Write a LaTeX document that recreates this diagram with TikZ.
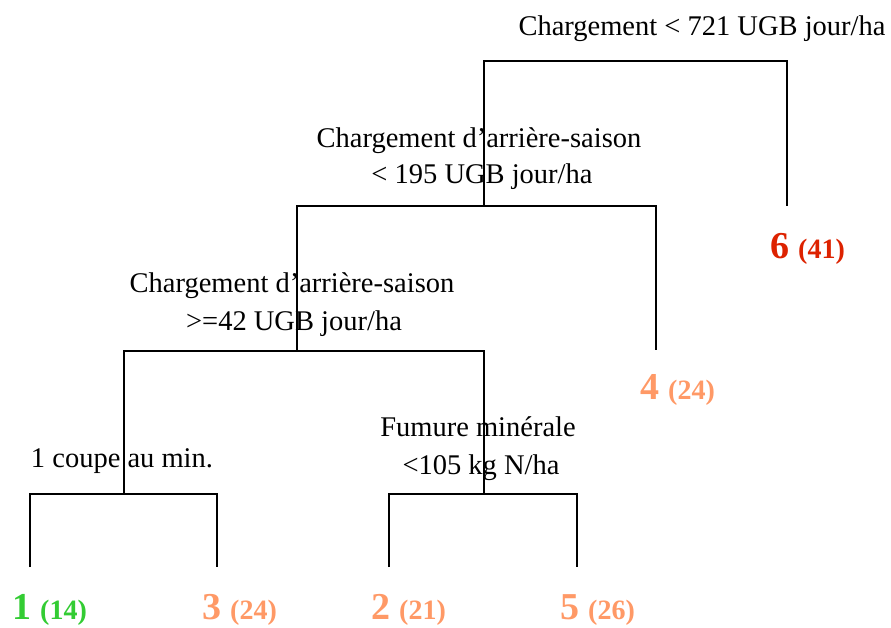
\documentclass[tikz,border=0pt]{standalone}
\usepackage{fontspec}
\setmainfont{Liberation Serif}
\definecolor{leafgreen}{RGB}{51,204,51}
\definecolor{leaforange}{RGB}{255,153,102}
\definecolor{leafred}{RGB}{221,34,0}
\tikzset{
  split/.style={line width=1.3pt, draw=black},
  cond/.style={inner sep=0pt, anchor=base, font=\fontsize{28.5}{34}\selectfont},
  leaf/.style={inner sep=0pt, anchor=base west, font=\bfseries},
}
\newcommand{\leafnum}[2]{{\fontsize{38}{40}\selectfont #1}\hspace{9pt}{\fontsize{28}{30}\selectfont (#2)}}
\begin{document}
\begin{tikzpicture}[x=1pt,y=-1pt]
\useasboundingbox (0,0) rectangle (891,627);
% junctions
\coordinate (j1) at (484,61);
\coordinate (j2) at (484,206);
\coordinate (j3) at (297,351);
\coordinate (j4) at (124,494);
\coordinate (j5) at (484,494);
% leg ends
\coordinate (e6) at (787,206);
\coordinate (e4) at (656,350);
\coordinate (e1) at (30,567);
\coordinate (e3) at (217,567);
\coordinate (e2) at (389,567);
\coordinate (e5) at (577,567);
% tree
\draw[split] (j2) |- (j1) -| (e6);
\draw[split] (j3) |- (j2) -| (e4);
\draw[split] (j4) |- (j3) -| (j5);
\draw[split] (e1) |- (j4) -| (e3);
\draw[split] (e2) |- (j5) -| (e5);
% conditions
\node[cond] (c1) at (702,35) {Chargement < 721 UGB jour/ha};
\node[cond] (c2a) at (479,147) {Chargement d’arrière-saison};
\node[cond] (c2b) at (482,183) {< 195 UGB jour/ha};
\node[cond] (c3a) at (292,292) {Chargement d’arrière-saison};
\node[cond] (c3b) at (294,330) {>=42 UGB jour/ha};
\node[cond] (c4) at (122,467) {1 coupe au min.};
\node[cond] (c5a) at (478,436) {Fumure minérale};
\node[cond] (c5b) at (481,474) {<105 kg N/ha};
% leaves
\node[leaf, text=leafgreen] (l1) at (12,619) {\leafnum{1}{14}};
\node[leaf, text=leaforange] (l3) at (202,619) {\leafnum{3}{24}};
\node[leaf, text=leaforange] (l2) at (371,619) {\leafnum{2}{21}};
\node[leaf, text=leaforange] (l5) at (560,619) {\leafnum{5}{26}};
\node[leaf, text=leaforange] (l4) at (640,399) {\leafnum{4}{24}};
\node[leaf, text=leafred] (l6) at (770,258) {\leafnum{6}{41}};
\end{tikzpicture}
\end{document}
